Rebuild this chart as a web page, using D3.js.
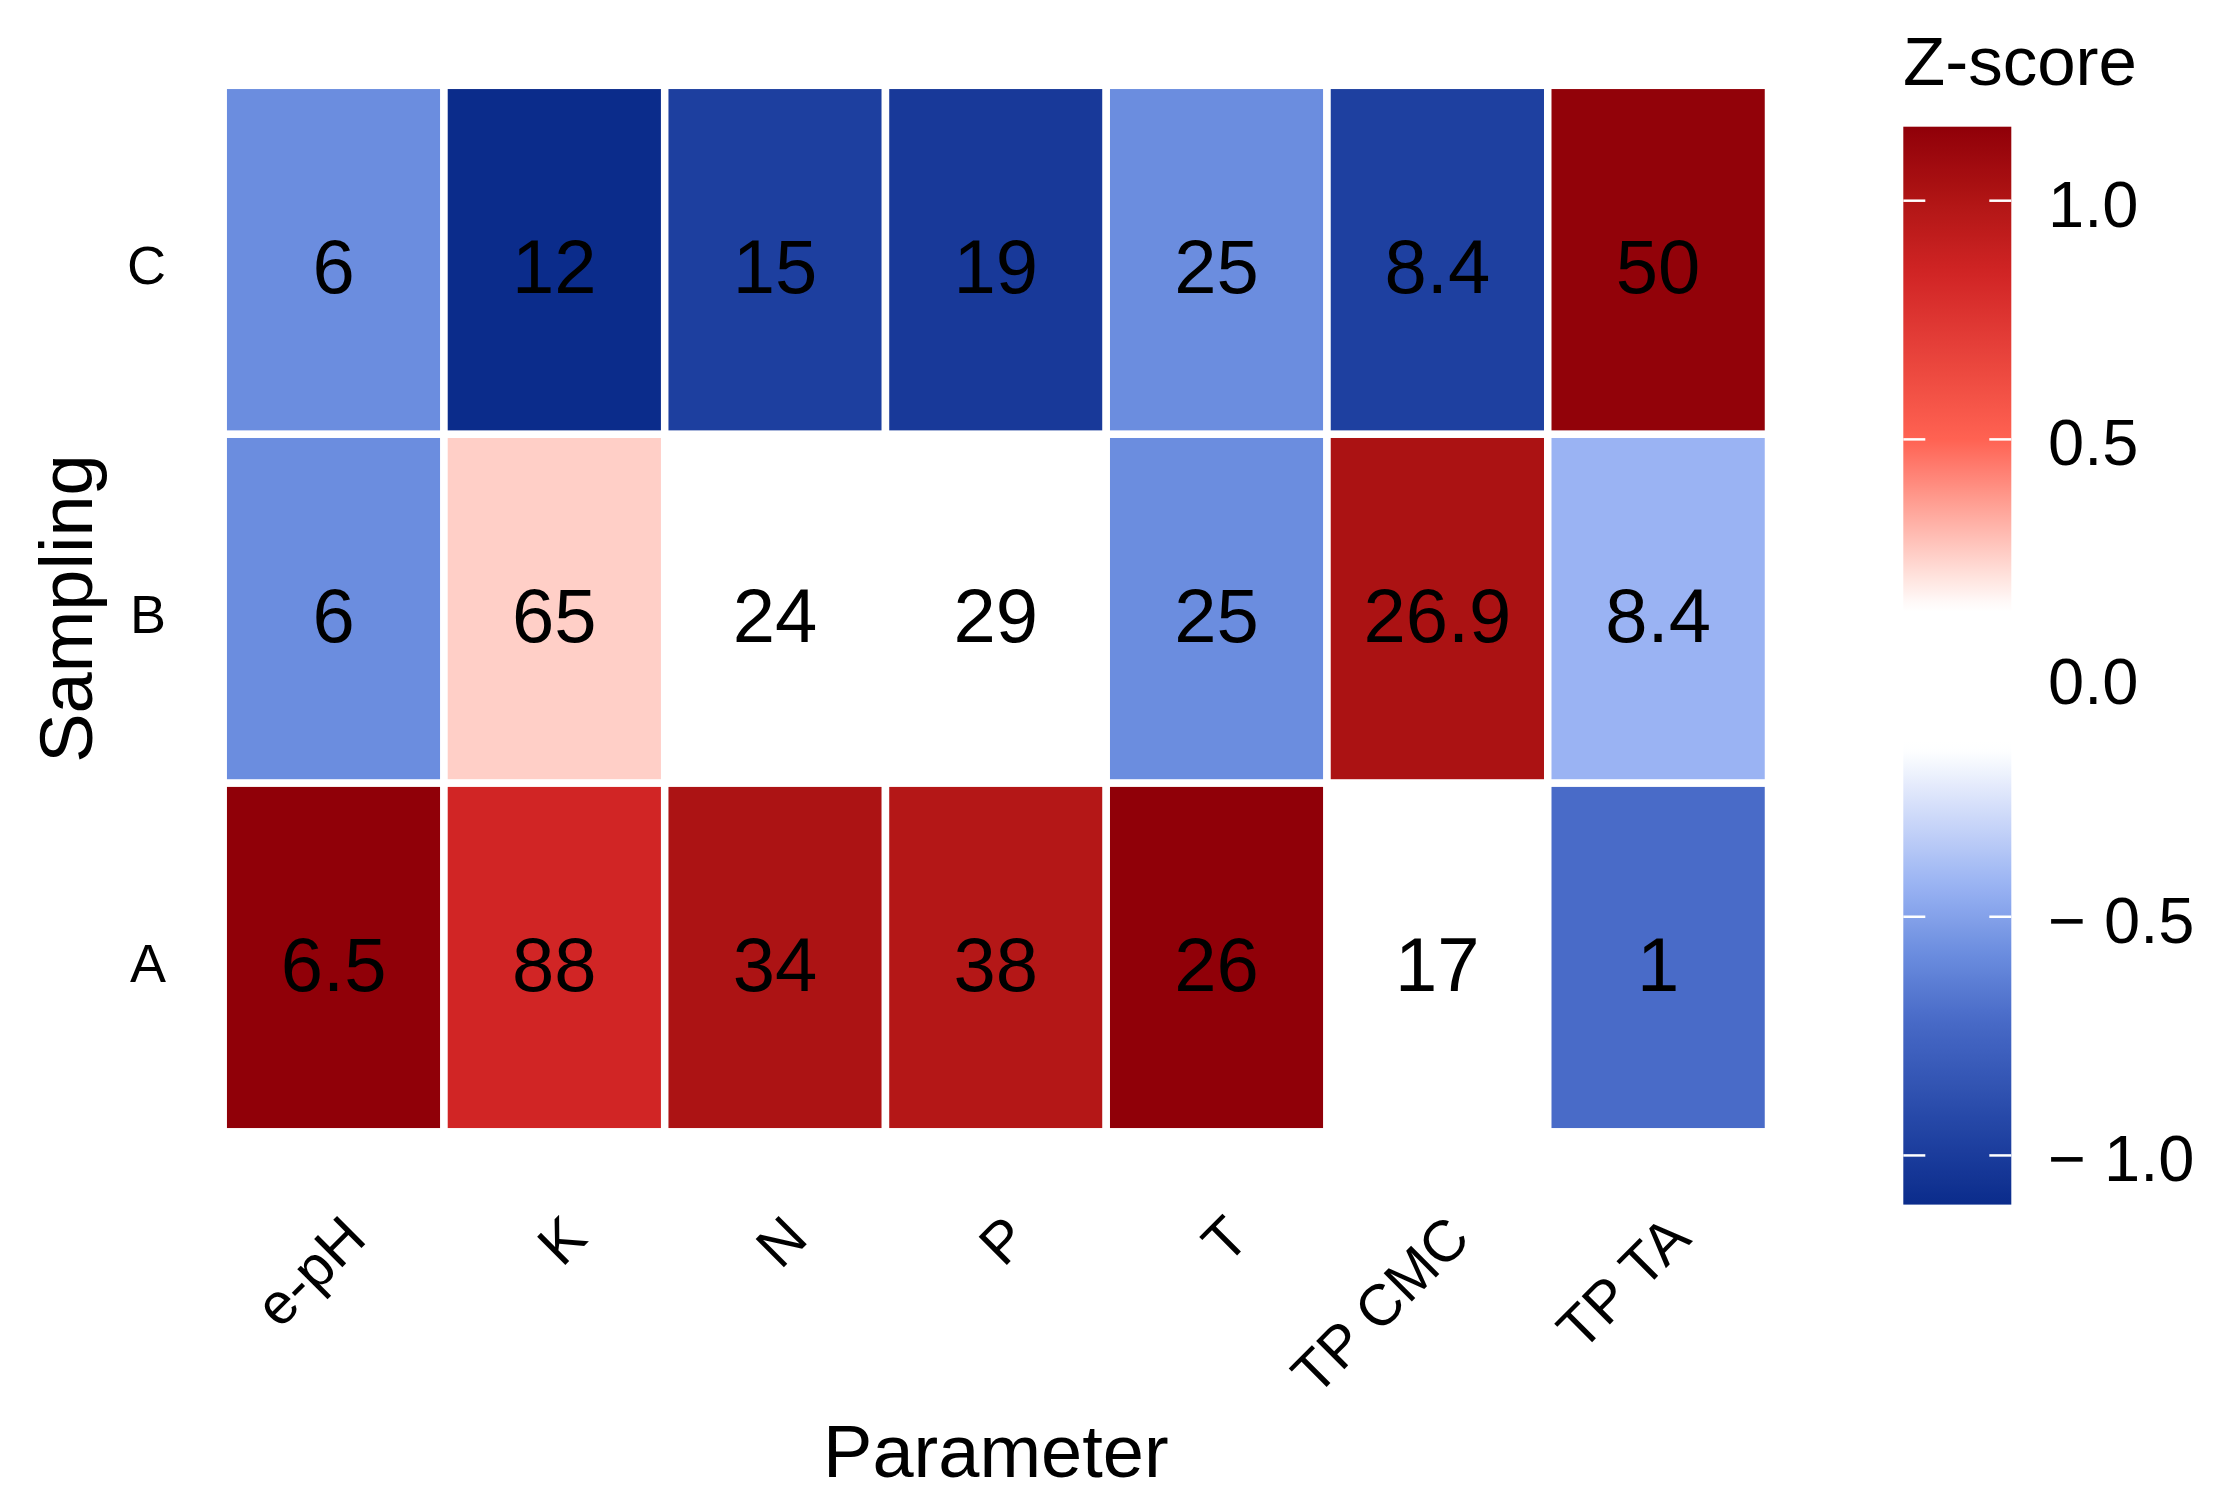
<!DOCTYPE html>
<html>
<head>
<meta charset="utf-8">
<script src="https://cdn.jsdelivr.net/npm/d3@7"></script>
<style>
  body { margin: 0; background: #fff; }
  text { font-family: "Liberation Sans", Arial, sans-serif; fill: #000; }
</style>
</head>
<body>
<svg id="chart" width="2230" height="1495"></svg>
<script>
// categories
var parameters = ["e-pH", "K", "N", "P", "T", "TP CMC", "TP TA"];
var samplings = ["A", "B", "C"];

// values printed in the cells
var labelsA = ["6.5", "88", "34", "38", "26", "17", "1"];
var labelsB = ["6", "65", "24", "29", "25", "26.9", "8.4"];
var labelsC = ["6", "12", "15", "19", "25", "8.4", "50"];

// z-score (fill) per sampling row
var zA = [1.155, 0.847, 1.017, 0.982, 1.155, -0.047, -0.712];
var zB = [-0.577, 0.257, -0.035, 0.035, -0.577, 1.023, -0.432];
var zC = [-0.577, -1.103, -0.982, -1.017, -0.577, -0.976, 1.143];

var legendBreaks = [-1.0, -0.5, 0.0, 0.5, 1.0];

var rows = {A: {labels: labelsA, z: zA}, B: {labels: labelsB, z: zB}, C: {labels: labelsC, z: zC}};
var cells = [];
samplings.forEach(function(s){
    parameters.forEach(function(p, i){
        cells.push({param: p, sampling: s, label: rows[s].labels[i], z: rows[s].z[i]});
    });
});

var svg = d3.select("#chart");

// panel
var panel = {left: 223.2, right: 1768.5, top: 85.3, bottom: 1131.8};

var x = d3.scaleBand().domain(parameters).range([panel.left, panel.right]).padding(0);
var y = d3.scaleBand().domain(samplings.slice().reverse()).range([panel.top, panel.bottom]).padding(0);

var zExtent = d3.extent(cells, d => d.z);

// diverging palette, blue - white - red
var color = d3.scaleLinear()
    .domain([-1.103, -0.98, -0.712, -0.577, -0.432, -0.15, 0.145, 0.257, 0.5, 0.847, 1.0, 1.155])
    .range(["#0b2c8b", "#1d3f9f", "#496bc8", "#6b8ddf", "#9ab3f3", "#ffffff", "#ffffff", "#ffcfc7", "#ff6252", "#d12525", "#b01515", "#900008"])
    .clamp(true);

// tiles
svg.append("g").selectAll("rect")
    .data(cells)
    .enter()
    .append("rect")
    .attr("x", d => x(d.param))
    .attr("y", d => y(d.sampling))
    .attr("width", x.bandwidth())
    .attr("height", y.bandwidth())
    .attr("fill", d => color(d.z))
    .attr("stroke", "#fff")
    .attr("stroke-width", 7.5);

// cell labels
var cellFont = 76;
svg.append("g").selectAll("text")
    .data(cells)
    .enter()
    .append("text")
    .attr("x", d => x(d.param) + x.bandwidth() / 2)
    .attr("y", d => y(d.sampling) + y.bandwidth() / 2 + 0.44 * cellFont)
    .attr("text-anchor", "middle")
    .style("font-size", cellFont + "px")
    .text(d => d.label);

// y axis labels
var tickFont = 54;
svg.append("g").selectAll("text")
    .data(samplings)
    .enter()
    .append("text")
    .attr("x", 166)
    .attr("y", d => y(d) + y.bandwidth() / 2 + 0.45 * tickFont)
    .attr("text-anchor", "end")
    .style("font-size", tickFont + "px")
    .text(d => d);

// x axis labels, rotated 45
var xFont = 58;
svg.append("g").selectAll("text")
    .data(parameters)
    .enter()
    .append("text")
    .attr("text-anchor", "end")
    .attr("transform", d => "translate(" + (x(d) + x.bandwidth() / 2 + 35) + ",1241) rotate(-45)")
    .style("font-size", xFont + "px")
    .text(d => d);

// axis titles
svg.append("text")
    .attr("x", (panel.left + panel.right) / 2)
    .attr("y", 1477)
    .attr("text-anchor", "middle")
    .style("font-size", "74px")
    .text("Parameter");

svg.append("text")
    .attr("transform", "translate(92," + ((panel.top + panel.bottom) / 2) + ") rotate(-90)")
    .attr("text-anchor", "middle")
    .style("font-size", "74px")
    .text("Sampling");

// colour bar legend
var bar = {x: 1903.3, width: 108, top: 126.7, bottom: 1204.6};
var legendScale = d3.scaleLinear().domain(zExtent).range([bar.bottom, bar.top]);

var grad = svg.append("defs").append("linearGradient")
    .attr("id", "zgrad")
    .attr("x1", 0).attr("y1", 1).attr("x2", 0).attr("y2", 0);
grad.selectAll("stop")
    .data(d3.range(0, 101).map(i => i / 100))
    .enter()
    .append("stop")
    .attr("offset", t => t)
    .attr("stop-color", t => color(zExtent[0] + t * (zExtent[1] - zExtent[0])));

svg.append("rect")
    .attr("x", bar.x)
    .attr("y", bar.top)
    .attr("width", bar.width)
    .attr("height", bar.bottom - bar.top)
    .attr("fill", "url(#zgrad)");

var tickLen = 22;
var legTicks = svg.append("g");
legendBreaks.forEach(function(b){
    var ty = legendScale(b);
    legTicks.append("line")
        .attr("x1", bar.x).attr("x2", bar.x + tickLen)
        .attr("y1", ty).attr("y2", ty)
        .attr("stroke", "#fff").attr("stroke-width", 2.5);
    legTicks.append("line")
        .attr("x1", bar.x + bar.width - tickLen).attr("x2", bar.x + bar.width)
        .attr("y1", ty).attr("y2", ty)
        .attr("stroke", "#fff").attr("stroke-width", 2.5);
});

var legFont = 65;
svg.append("g").selectAll("text")
    .data(legendBreaks)
    .enter()
    .append("text")
    .attr("x", 2048)
    .attr("y", d => legendScale(d) + 26)
    .style("font-size", legFont + "px")
    .text(d => d < 0 ? "\u2212 " + d3.format(".1f")(-d) : d3.format(".1f")(d));

svg.append("text")
    .attr("x", 1903)
    .attr("y", 85)
    .style("font-size", "69px")
    .text("Z-score");
</script>
</body>
</html>
